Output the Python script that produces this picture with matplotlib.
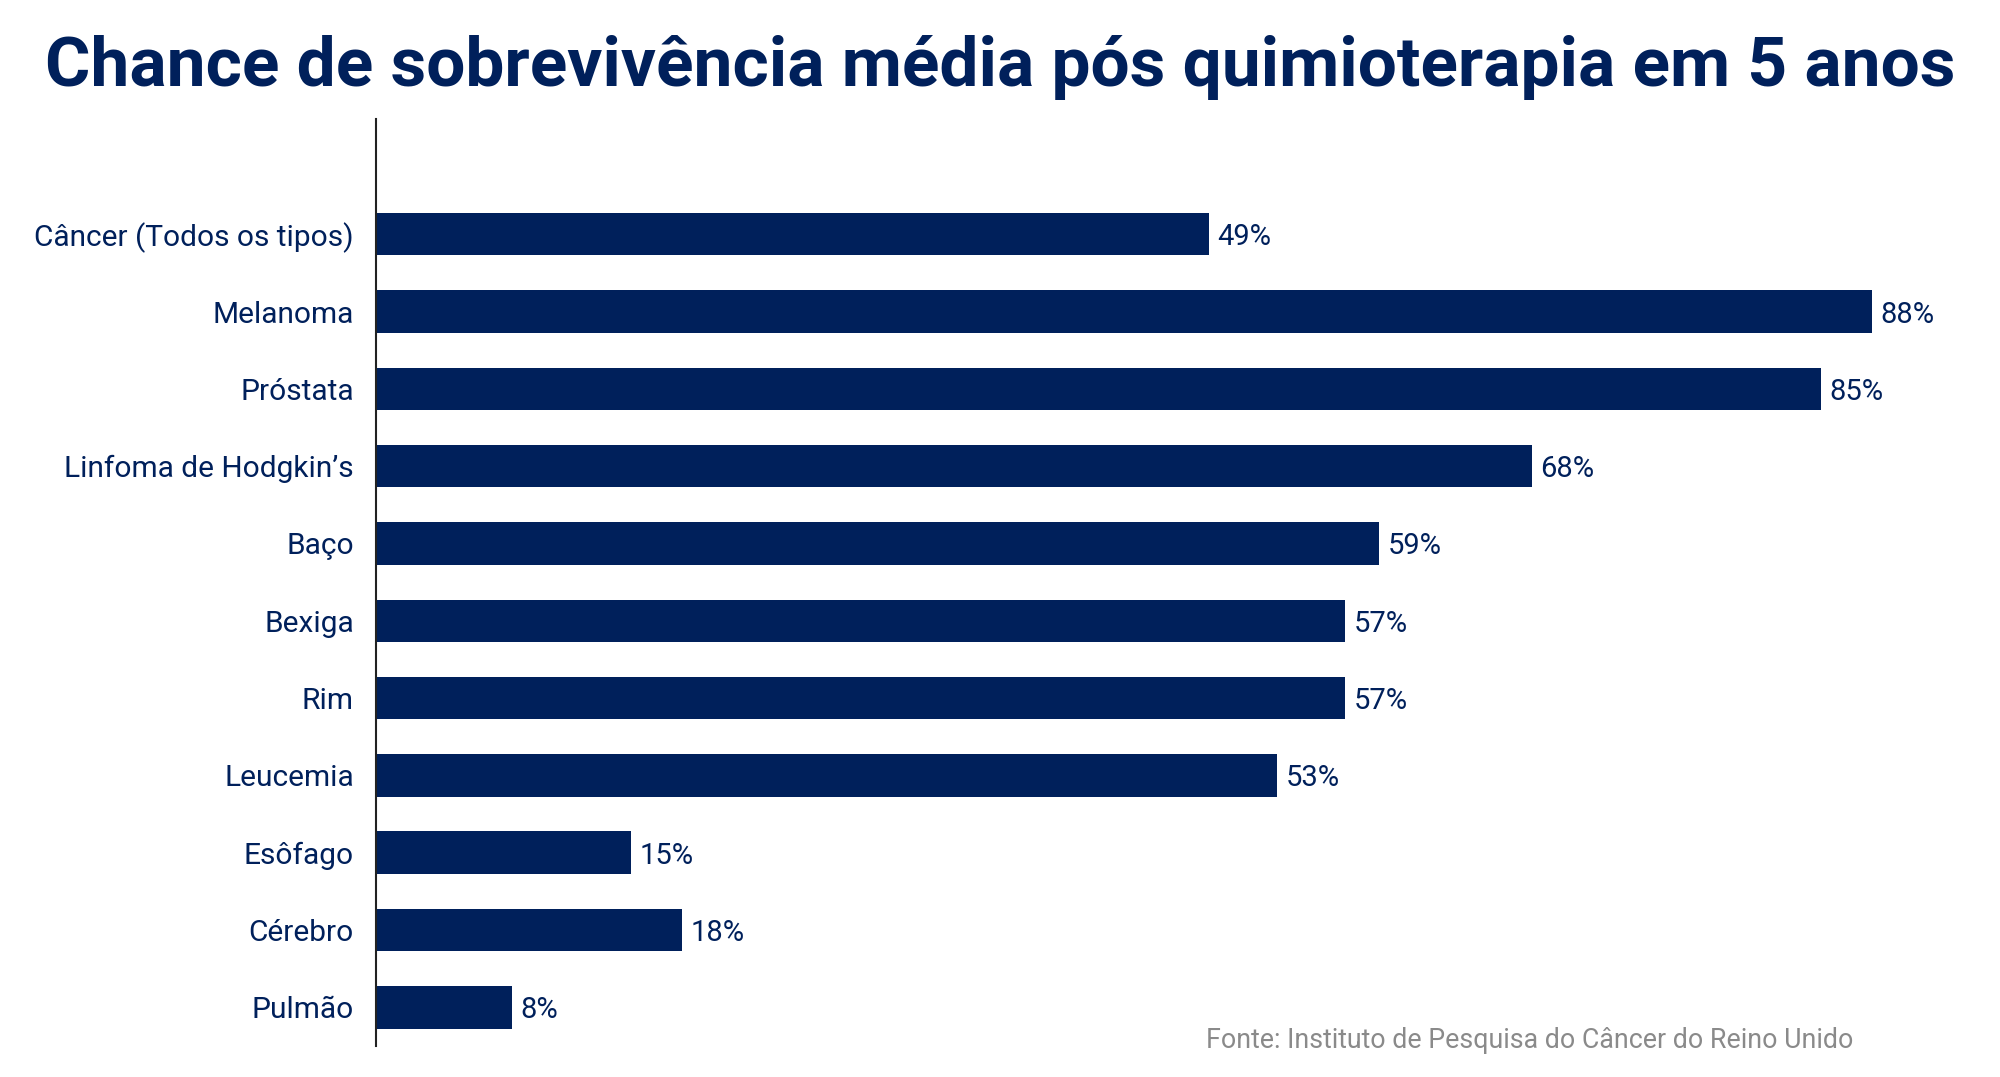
import matplotlib
matplotlib.use("Agg")
import matplotlib.pyplot as plt
import numpy as np

# Dados
categorias = ["Câncer (Todos os tipos)", "Melanoma", "Próstata", "Linfoma de Hodgkin’s",
              "Baço", "Bexiga", "Rim", "Leucemia", "Esôfago", "Cérebro", "Pulmão"]
valores = [49, 88, 85, 68, 59, 57, 57, 53, 15, 18, 8]

titulo = "Chance de sobrevivência média pós quimioterapia em 5 anos"
fonte = "Fonte: Instituto de Pesquisa do Câncer do Reino Unido"

azul = "#00205B"
plt.rcParams['font.family'] = ['Roboto', 'DejaVu Sans']

fig = plt.figure(figsize=(20, 10.77), dpi=100)
ax = fig.add_axes([0.188, 0.0288, 0.8075, 0.8607])

y = np.arange(len(categorias))[::-1]
ax.barh(y, valores, height=0.55, color=azul)

# rótulos de valor
for yi, v in zip(y, valores):
    ax.text(v + 0.5, yi, f"{v}%", va='center_baseline', ha='left', fontsize=21, color=azul)

ax.set_yticks(y)
ax.set_yticklabels(categorias, fontsize=21.5, color=azul)
ax.tick_params(axis='y', length=0, pad=16)
ax.set_xticks([])
ax.set_xlim(0, 95)
ax.set_ylim(-0.5, len(categorias) - 1 + 1.49)
for s in ['top', 'right', 'bottom']:
    ax.spines[s].set_visible(False)
ax.spines['left'].set_linewidth(1.5)
ax.spines['left'].set_color('#222222')

fig.text(0.5, 0.937, titulo, ha='center', va='center', fontsize=50,
         fontweight='bold', color=azul)
fig.text(0.9265, 0.034, fonte, ha='right', va='center', fontsize=19.3, color='#8a8a8a')

fig.savefig("out.png", dpi=100, facecolor='white')
